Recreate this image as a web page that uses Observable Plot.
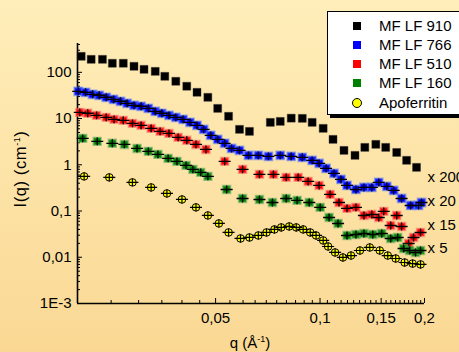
<!DOCTYPE html>
<html>
<head>
<meta charset="utf-8">
<script src="https://cdn.jsdelivr.net/npm/d3@7"></script>
<script src="https://cdn.jsdelivr.net/npm/@observablehq/plot@0.6"></script>
<style>
  html, body { margin: 0; padding: 0; width: 459px; height: 352px; overflow: hidden; }
  body { position: relative; background: linear-gradient(to bottom, #FFEEBA, #FAD894); font-family: "Liberation Sans", Arial, sans-serif; color: #000; }
  #chart { position: absolute; left: 0; top: 0; }
  .axtitle { position: absolute; white-space: nowrap; line-height: 1; }
  .axtitle sup { font-size: 9px; vertical-align: 6px; }
  #ylab { left: 20px; top: 169px; font-size: 16.5px; letter-spacing: 0.6px; transform: translate(-50%, -50%) rotate(-90deg); }
  #xlab { left: 250px; top: 342px; font-size: 15px; transform: translate(-50%, -50%); }
  #legend { position: absolute; left: 327px; top: 11px; width: 150px; height: 102px; background: #fff; border: 1px solid #000; box-shadow: 3px 3px 0 #000; }
  .lrow { position: absolute; left: 0; height: 18px; width: 150px; }
  .lmark { position: absolute; left: 25px; top: 5px; width: 8px; height: 8px; }
  .ltext { position: absolute; left: 51px; top: 0; font-size: 15px; line-height: 18px; white-space: nowrap; }
</style>
</head>
<body>
<div id="chart"></div>
<div id="ylab" class="axtitle">I(q) (cm<sup>-1</sup>)</div>
<div id="xlab" class="axtitle">q (Å<sup>-1</sup>)</div>
<div id="legend"></div>
<script>
// ---- data ----
const seriesNames = ["MF LF 910", "MF LF 766", "MF LF 510", "MF LF 160", "Apoferritin"];
const seriesColors = ["#000000", "#0000FF", "#FF0000", "#008000", "#FFFF00"];

const q910 = [0.0205,0.0219,0.0236,0.0252,0.0271,0.0291,0.0311,0.0335,0.0357,0.0384,0.0413,0.0442,0.0475,0.0507,0.0545,0.0586,0.0626,0.0719,0.0768,0.0826,0.0889,0.0949,0.1021,0.1090,0.1172,0.1261,0.1346,0.1448,0.1546,0.1663,0.1776,0.1897];
const I910 = [222,191,191,157,157,135,116,105,82,64,50,37,28.8,16.6,11.2,5.84,5.28,8.27,8.69,10.2,10.1,8.27,6.14,3.55,2.05,1.60,2.38,2.77,2.38,1.85,1.25,0.88];

const q766 = [0.0201,0.0211,0.0221,0.0231,0.0242,0.0254,0.0266,0.0278,0.0291,0.0305,0.0320,0.0335,0.0350,0.0367,0.0384,0.0403,0.0422,0.0442,0.0462,0.0484,0.0507,0.0531,0.0556,0.0586,0.0622,0.0664,0.0710,0.0768,0.0826,0.0889,0.0949,0.0994,0.1041,0.1097,0.1149,0.1196,0.1269,0.1338,0.1410,0.1476,0.1557,0.1630,0.1718,0.1824,0.1922,0.1961];
const I766 = [38.8,36.9,33.4,31.8,28.8,26.0,23.6,21.3,19.3,18.4,16.6,14.3,13.0,11.7,10.6,9.61,8.27,7.13,5.84,4.33,3.55,2.91,2.26,2.05,1.60,1.60,1.52,1.60,1.52,1.45,1.245,1.072,0.836,0.651,0.483,0.358,0.293,0.324,0.324,0.416,0.341,0.279,0.187,0.132,0.132,0.153];

const q510 = [0.0203,0.0214,0.0227,0.0242,0.0255,0.0271,0.0288,0.0305,0.0326,0.0346,0.0367,0.0390,0.0413,0.0439,0.0469,0.0531,0.0598,0.0669,0.0734,0.0799,0.0865,0.0924,0.0994,0.1069,0.1134,0.1196,0.1269,0.1338,0.1410,0.1476,0.1526,0.1598,0.1663,0.1718,0.1800,0.1860,0.1948];
const I510 = [13.6,13.0,11.7,10.6,9.61,9.14,7.87,7.13,6.14,5.28,4.78,3.92,3.38,2.76,2.15,1.185,0.795,0.620,0.620,0.534,0.534,0.437,0.358,0.229,0.153,0.114,0.120,0.0803,0.0844,0.0727,0.0982,0.0488,0.0803,0.0464,0.0199,0.0268,0.0344];

const q160 = [0.0207,0.0228,0.0252,0.0273,0.0297,0.0320,0.0341,0.0365,0.0387,0.0411,0.0430,0.0453,0.0475,0.0538,0.0598,0.0669,0.0729,0.0799,0.0859,0.0931,0.1001,0.1062,0.1127,0.1196,0.1269,0.1338,0.1419,0.1506,0.1598,0.1674,0.1741,0.1812,0.1885,0.1948];
const I160 = [3.73,3.21,2.91,2.76,2.26,1.95,1.68,1.375,1.185,0.970,0.795,0.685,0.561,0.293,0.187,0.178,0.153,0.187,0.170,0.153,0.120,0.0727,0.0539,0.0296,0.0311,0.0327,0.0311,0.0327,0.0255,0.0268,0.0155,0.0140,0.0127,0.0140];

const qApo = [0.0209,0.0247,0.0288,0.0326,0.0362,0.0400,0.0439,0.0475,0.0511,0.0545,0.0590,0.0626,0.0664,0.0701,0.0739,0.0773,0.0815,0.0854,0.0894,0.0937,0.0974,0.1021,0.1055,0.1105,0.1164,0.1228,0.1303,0.1391,0.1486,0.1567,0.1652,0.1753,0.1848,0.1948];
const IApo = [0.561,0.534,0.416,0.324,0.240,0.178,0.120,0.0803,0.0539,0.0344,0.0255,0.0268,0.0296,0.0344,0.0400,0.0442,0.0464,0.0442,0.0400,0.0344,0.0296,0.0231,0.0171,0.0127,0.0099,0.0109,0.0140,0.0163,0.0140,0.0109,0.0094,0.0077,0.0073,0.0070];

const factorLabels = ["x 200", "x 20", "x 15", "x 5"];
const factorI = [0.533, 0.161, 0.0488, 0.0155];

const qTicks = [0.05, 0.1, 0.15, 0.2];
const qTickLabels = ["0,05", "0,1", "0,15", "0,2"];
const iTicks = [0.001, 0.01, 0.1, 1, 10, 100];
const iTickLabels = ["1E-3", "0,01", "0,1", "1", "10", "100"];

// ---- build ----
const table = (q, I) => q.map((d, i) => ({q: d, I: I[i]}));
const d910 = table(q910, I910), d766 = table(q766, I766), d510 = table(q510, I510), d160 = table(q160, I160), dApo = table(qApo, IApo);
const factors = factorLabels.map((t, i) => ({t, I: factorI[i]}));
const xLab = qTicks.map((v, i) => ({v, label: qTickLabels[i]}));
const yLab = iTicks.map((v, i) => ({v, label: iTickLabels[i]}));

const qMinor = d3.range(5, 40).map(k => k * 0.005).filter(v => v > 0.0201 && v < 0.1999 && !qTicks.some(t => Math.abs(t - v) < 1e-9));
const iMinor = [];
for (let e = -3; e <= 2; e++) for (let m = 2; m <= 9; m++) { const v = m * Math.pow(10, e); if (v < 420) iMinor.push(v); }

const cross = {
  draw(ctx, size) {
    const s = Math.sqrt(size);
    ctx.moveTo(-0.85 * s, 0); ctx.lineTo(0.85 * s, 0);
    ctx.moveTo(0, -0.56 * s); ctx.lineTo(0, 0.56 * s);
  }
};

const coloured = (data, color, halo, r) => [
  Plot.dot(data, {x: "q", y: "I", symbol: "square", r, fill: color, stroke: halo, strokeOpacity: 0.55, strokeWidth: 2}),
  Plot.dot(data, {x: "q", y: "I", symbol: cross, r: 4, fill: "none", stroke: "#000", strokeWidth: 1.4})
];

const noLabel = () => "";

const chart = Plot.plot({
  width: 459, height: 352,
  marginLeft: 77, marginRight: 35, marginTop: 43, marginBottom: 49,
  style: {background: "transparent", fontFamily: "'Liberation Sans', Arial, sans-serif", fontSize: "15px", color: "#000"},
  x: {type: "log", domain: [0.02, 0.2]},
  y: {type: "log", domain: [0.001, 420]},
  marks: [
    Plot.axisY(iMinor, {anchor: "left", tickSize: -3, tickFormat: noLabel, label: null, stroke: "#000"}),
    Plot.axisY(iTicks, {anchor: "left", tickSize: -5, tickFormat: noLabel, label: null, stroke: "#000"}),
    Plot.axisX(qMinor, {anchor: "bottom", tickSize: -3, tickFormat: noLabel, label: null, stroke: "#000"}),
    Plot.axisX(qTicks, {anchor: "bottom", tickSize: -5, tickFormat: noLabel, label: null, stroke: "#000"}),
    Plot.text(yLab, {y: "v", text: "label", frameAnchor: "left", dx: -6, textAnchor: "end", fontSize: 15, fill: "#000"}),
    Plot.text(xLab, {x: "v", text: "label", frameAnchor: "bottom", dy: 9, lineAnchor: "top", fontSize: 15, fill: "#000"}),
    Plot.ruleX([0.02], {stroke: "#000", strokeWidth: 1.6}),
    Plot.ruleY([0.001], {stroke: "#000", strokeWidth: 1.6}),
    Plot.dot(d910, {x: "q", y: "I", symbol: "square", r: 4.5, fill: "#000", stroke: "#333", strokeOpacity: 0.4, strokeWidth: 1}),
    ...coloured(d766, "#0000FF", "#5577ff", 4.4),
    ...coloured(d510, "#FF0000", "#ff6666", 4.2),
    ...coloured(d160, "#008000", "#55aa55", 4.2),
    Plot.dot(dApo, {x: "q", y: "I", r: 3.8, fill: "#FFFF00", stroke: "#000", strokeWidth: 1}),
    Plot.dot(dApo, {x: "q", y: "I", symbol: cross, r: 4, fill: "none", stroke: "#000", strokeWidth: 1.2}),
    Plot.text(factors, {x: () => 0.2, y: "I", text: "t", dx: 3, textAnchor: "start", fontSize: 15, fill: "#000"})
  ]
});
document.getElementById("chart").appendChild(chart);

// ---- legend ----
const legend = document.getElementById("legend");
const rowTops = [5, 24, 43, 62, 82];
seriesNames.forEach((name, i) => {
  const row = document.createElement("div");
  row.className = "lrow";
  row.style.top = rowTops[i] + "px";
  const m = document.createElement("div");
  m.className = "lmark";
  m.style.background = seriesColors[i];
  if (i === 4) { m.style.borderRadius = "50%"; m.style.border = "1px solid #000"; m.style.left = "24px"; m.style.top = "4px"; }
  const t = document.createElement("div");
  t.className = "ltext";
  t.textContent = name;
  row.appendChild(m); row.appendChild(t);
  legend.appendChild(row);
});
</script>
</body>
</html>
